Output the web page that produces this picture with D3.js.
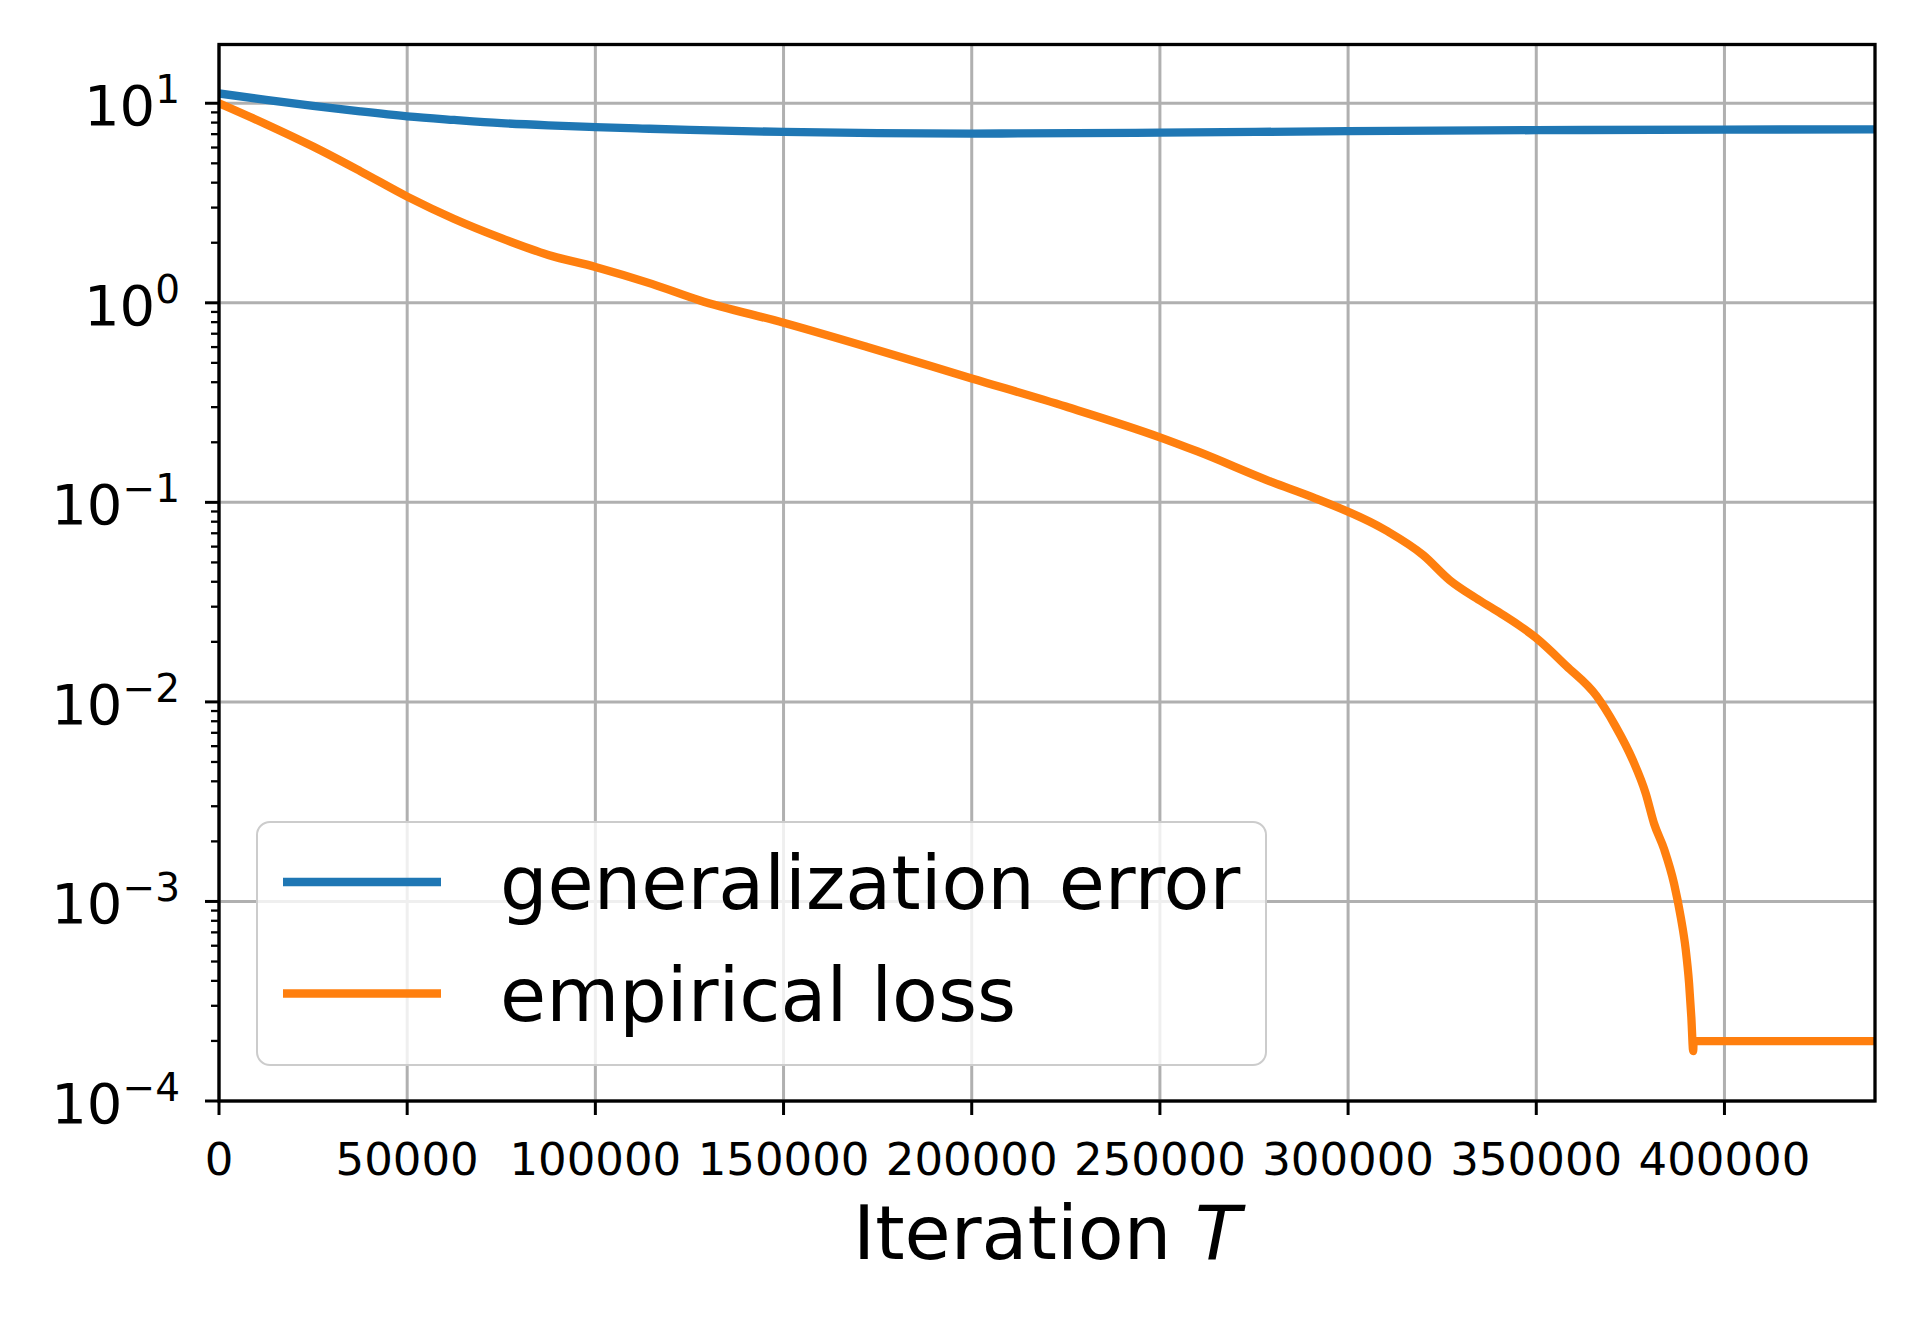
<!DOCTYPE html>
<html>
<head>
<meta charset="utf-8">
<script src="https://cdn.jsdelivr.net/npm/d3@7"></script>
<style>
  body { margin: 0; background: #fff; }
  svg { display: block; font-family: "DejaVu Sans", sans-serif; }
</style>
</head>
<body>
<svg id="chart" width="1920" height="1320"></svg>
<script>
// iteration grid and values
var genIter = [0, 12500, 25000, 37500, 50000, 62500, 75000, 87500, 100000, 112500, 125000, 150000, 175000, 200000, 250000, 300000, 350000, 400000, 440000];
var genError = [11.2, 10.4, 9.7, 9.1, 8.6, 8.25, 7.95, 7.75, 7.6, 7.47, 7.35, 7.18, 7.08, 7.05, 7.12, 7.25, 7.33, 7.38, 7.40];

var lossIter = [0, 12500, 25000, 37500, 50000, 62500, 75000, 87500, 100000, 115000, 127600, 150000, 172000, 200000, 225000, 250000, 260000, 280000, 290000, 310000, 320000, 327000, 334000, 340000, 350000, 358000, 366000, 371000, 375600, 379100, 381300, 384000, 386600, 388400, 389700, 390600, 391200, 391700, 391800, 440000];
var lossLog10 = [1.0, 0.895, 0.783, 0.66, 0.532, 0.42, 0.324, 0.24, 0.18, 0.095, 0.013, -0.10, -0.22, -0.379, -0.52, -0.674, -0.745, -0.9, -0.97, -1.14, -1.265, -1.39, -1.48, -1.55, -1.68, -1.82, -1.97, -2.12, -2.29, -2.46, -2.61, -2.74, -2.91, -3.08, -3.24, -3.41, -3.58, -3.75, -3.70, -3.70];

var xTicks = [0, 50000, 100000, 150000, 200000, 250000, 300000, 350000, 400000];
var yExponents = [-4, -3, -2, -1, 0, 1];
var seriesNames = ["generalization error", "empirical loss"];
var seriesColors = ["#1f77b4", "#ff7f0e"];

var svg = d3.select("#chart");
var plotLeft = 219, plotRight = 1875, plotTop = 44.5, plotBottom = 1101;

var x = d3.scaleLinear().domain([0, 440000]).range([plotLeft, plotRight]);
var y = d3.scaleLog().domain([1e-4, 19.7]).range([plotBottom, plotTop]);

var series = [
  genIter.map(function (t, i) { return { t: t, v: genError[i] }; }),
  lossIter.map(function (t, i) { return { t: t, v: Math.pow(10, lossLog10[i]) }; })
];

svg.append("defs").append("clipPath").attr("id", "plotClip")
  .append("rect").attr("x", plotLeft).attr("y", plotTop)
  .attr("width", plotRight - plotLeft).attr("height", plotBottom - plotTop);

// grid
var grid = svg.append("g").attr("stroke", "#b0b0b0").attr("stroke-width", 3);
grid.selectAll(".vg").data(xTicks).enter().append("line")
  .attr("x1", function (d) { return x(d); }).attr("x2", function (d) { return x(d); })
  .attr("y1", plotTop).attr("y2", plotBottom);
grid.selectAll(".hg").data(yExponents).enter().append("line")
  .attr("x1", plotLeft).attr("x2", plotRight)
  .attr("y1", function (d) { return y(Math.pow(10, d)); })
  .attr("y2", function (d) { return y(Math.pow(10, d)); });

// lines
var line = d3.line()
  .curve(d3.curveMonotoneX)
  .x(function (d) { return x(d.t); })
  .y(function (d) { return y(d.v); });
svg.append("g").attr("clip-path", "url(#plotClip)")
  .selectAll("path").data(series).enter().append("path")
  .attr("d", line)
  .attr("fill", "none")
  .attr("stroke", function (d, i) { return seriesColors[i]; })
  .attr("stroke-width", 8.3)
  .attr("stroke-linejoin", "round")
  .attr("stroke-linecap", "round");

// spines
svg.append("rect").attr("x", plotLeft).attr("y", plotTop)
  .attr("width", plotRight - plotLeft).attr("height", plotBottom - plotTop)
  .attr("fill", "none").attr("stroke", "#000").attr("stroke-width", 3.3);

// x axis ticks
var xAxis = svg.append("g");
xAxis.selectAll("line").data(xTicks).enter().append("line")
  .attr("x1", function (d) { return x(d); }).attr("x2", function (d) { return x(d); })
  .attr("y1", plotBottom).attr("y2", plotBottom + 14)
  .attr("stroke", "#000").attr("stroke-width", 3);
xAxis.selectAll("text").data(xTicks).enter().append("text")
  .attr("x", function (d) { return x(d); }).attr("y", 1175)
  .attr("text-anchor", "middle").attr("font-size", 45)
  .text(function (d) { return String(d); });

// y axis: minor then major ticks
var minor = [];
yExponents.forEach(function (e) {
  for (var m = 2; m <= 9; m++) {
    var v = m * Math.pow(10, e);
    if (v <= y.domain()[1]) minor.push(v);
  }
});
var yAxis = svg.append("g");
yAxis.selectAll(".minor").data(minor).enter().append("line")
  .attr("x1", plotLeft - 8).attr("x2", plotLeft)
  .attr("y1", function (d) { return y(d); }).attr("y2", function (d) { return y(d); })
  .attr("stroke", "#000").attr("stroke-width", 2.3);
yAxis.selectAll(".major").data(yExponents).enter().append("line")
  .attr("x1", plotLeft - 14).attr("x2", plotLeft)
  .attr("y1", function (d) { return y(Math.pow(10, d)); })
  .attr("y2", function (d) { return y(Math.pow(10, d)); })
  .attr("stroke", "#000").attr("stroke-width", 3);
var yLabels = yAxis.selectAll("text").data(yExponents).enter().append("text")
  .attr("x", 180).attr("y", function (d) { return y(Math.pow(10, d)) + 21.7; })
  .attr("text-anchor", "end").attr("font-size", 56);
yLabels.append("tspan").text("10");
yLabels.append("tspan").attr("font-size", 39).attr("dy", -21.7)
  .text(function (d) { return d < 0 ? "\u2212" + (-d) : String(d); });

// x label
var xl = svg.append("text").attr("x", (plotLeft + plotRight) / 2).attr("y", 1259)
  .attr("text-anchor", "middle").attr("font-size", 75);
xl.append("tspan").text("Iteration ");
xl.append("tspan").attr("font-style", "italic").text("T");

// legend
var legend = svg.append("g");
legend.append("rect").attr("x", 257).attr("y", 822).attr("width", 1009).attr("height", 243)
  .attr("rx", 13).attr("fill", "#fff").attr("fill-opacity", 0.8)
  .attr("stroke", "#cccccc").attr("stroke-width", 2);
var item = legend.selectAll(".item").data(seriesNames).enter().append("g")
  .attr("transform", function (d, i) { return "translate(0," + (i * 111.5) + ")"; });
item.append("line").attr("x1", 283).attr("x2", 441).attr("y1", 882).attr("y2", 882)
  .attr("stroke", function (d, i) { return seriesColors[i]; }).attr("stroke-width", 8.3);
item.append("text").attr("x", 500).attr("y", 909).attr("font-size", 75)
  .text(function (d) { return d; });
</script>
</body>
</html>
